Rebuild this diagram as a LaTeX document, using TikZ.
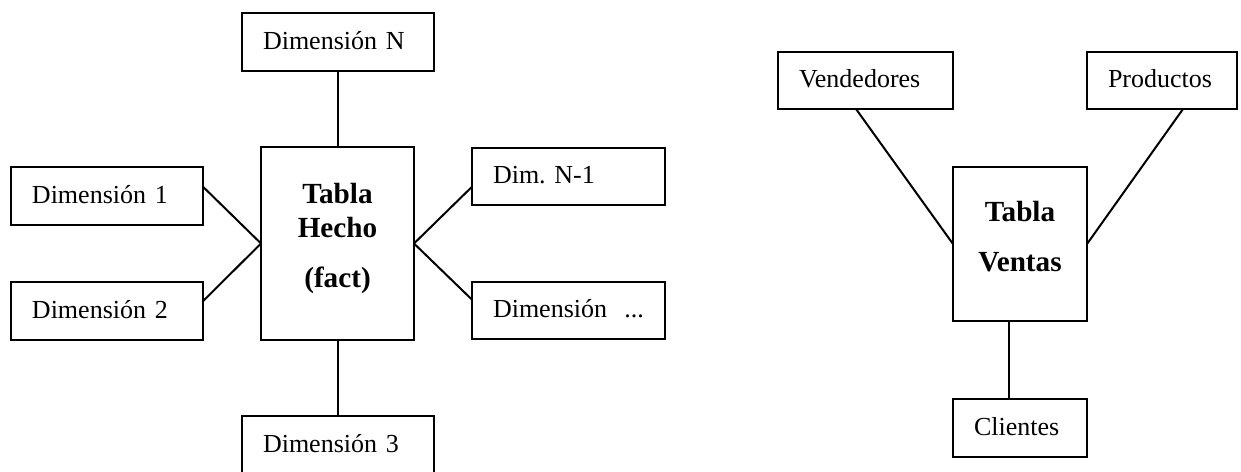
\documentclass[tikz,border=0pt]{standalone}
\usepackage{fontspec}
\setmainfont{Liberation Serif}
\usetikzlibrary{calc}
\begin{document}
\begin{tikzpicture}[x=0.5pt,y=-0.5pt,
  box/.style={draw, line width=1pt, anchor=north west, inner xsep=10.5pt, inner ysep=0pt,
    align=left, text height=9pt, text depth=2pt, outer sep=0pt,
    font=\fontsize{13}{15.6}\selectfont},
  bigbox/.style={draw, line width=1pt, anchor=north west, inner sep=0pt, outer sep=0pt},
  title/.style={anchor=base, inner sep=0pt, font=\fontsize{14.6}{17}\selectfont\bfseries},
  conn/.style={line width=1pt}]
\useasboundingbox (0,0) rectangle (1241,471);
\clip (0,0) rectangle (1241,471);

% ---------- left diagram ----------
\node[bigbox, minimum width=76.5pt, minimum height=96.5pt] (hecho) at (261,147) {};
\node[title] (h1) at (337.5,203) {Tabla};
\node[title] (h2) at (337.5,237) {Hecho};
\node[title] (h3) at (337.5,287) {(fact)};

\node[box, text width=75pt, minimum height=29pt] (dN) at (242,13) {\mbox{Dimensión N}};
\node[box, text width=75pt, minimum height=29pt] (d1) at (11,167) {\mbox{Dimensión 1}};
\node[box, text width=75pt, minimum height=29pt] (d2) at (11,282) {\mbox{Dimensión 2}};
\node[box, text width=75.5pt, minimum height=28.5pt] (dn1) at (472,148) {\mbox{Dim.\@ N-1}};
\node[box, text width=75.5pt, minimum height=28.5pt] (ddots) at (472,282) {\mbox{Dimensión\ \ ...}};
\node[box, text width=75pt, minimum height=29pt] (d3) at (242,416) {\mbox{Dimensión 3}};

\draw[conn] (dN.south) -- (dN.south |- hecho.north);
\draw[conn] (hecho.south) -- (hecho.south |- d3.north);
\draw[conn] ($(d1.north east)!0.34!(d1.south east)$) -- (hecho.west);
\draw[conn] ($(d2.north east)!0.33!(d2.south east)$) -- (hecho.west);
\draw[conn] ($(dn1.north west)!0.68!(dn1.south west)$) -- (hecho.east);
\draw[conn] ($(ddots.north west)!0.31!(ddots.south west)$) -- (hecho.east);

% ---------- right diagram ----------
\node[bigbox, minimum width=67pt, minimum height=77pt] (ventas) at (953,167) {};
\node[title] (v1) at (1020,221) {Tabla};
\node[title] (v2) at (1020,271) {Ventas};

\node[box, text width=66.5pt, minimum height=28.5pt] (vend) at (778,52) {\mbox{Vendedores}};
\node[box, text width=54pt, minimum height=28.5pt] (prod) at (1087,52) {\mbox{Productos}};
\node[box, text width=46pt, minimum height=29pt] (cli) at (953,399) {\mbox{Clientes}};

\draw[conn] ($(vend.south)+(-9.5,0)$) -- (ventas.west);
\draw[conn] ($(prod.south)+(21,0)$) -- (ventas.east);
\draw[conn] ($(ventas.south)+(-11,0)$) coordinate (vc) -- (vc |- cli.north);
\end{tikzpicture}
\end{document}
